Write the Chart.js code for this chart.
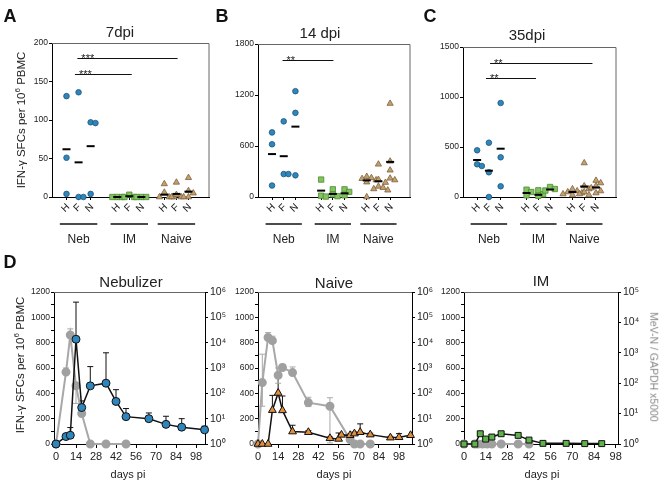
<!DOCTYPE html>
<html>
<head>
<meta charset="utf-8">
<script src="https://cdn.jsdelivr.net/npm/chart.js@4.4.1/dist/chart.umd.min.js"></script>
<style>
  body { margin: 0; background: #fff; width: 663px; height: 484px; position: relative; overflow: hidden;
         font-family: "Liberation Sans", Arial, sans-serif; color: #222; }
  canvas { position: absolute; left: 0; top: 0; }
  .t { position: absolute; white-space: nowrap; line-height: 1; transform: translate(-50%, -50%); }
  .letter { font-weight: bold; font-size: 18px; color: #111; }
  .ttl { font-size: 15px; }
  .yt { font-size: 11.5px; transform: translate(-50%, -50%) rotate(-90deg); }
  .yt sup { font-size: 8px; line-height: 0; }
  .rt { font-size: 10.5px; color: #888; transform: translate(-50%, -50%) rotate(90deg); }
  .dp { font-size: 11px; }
</style>
</head>
<body>
<canvas id="cA" width="663" height="484"></canvas>
<canvas id="cB" width="663" height="484"></canvas>
<canvas id="cC" width="663" height="484"></canvas>
<canvas id="cNeb" width="663" height="484"></canvas>
<canvas id="cNaive" width="663" height="484"></canvas>
<canvas id="cIM" width="663" height="484"></canvas>

<div class="t letter" style="left:10px;top:16px">A</div>
<div class="t letter" style="left:222px;top:16px">B</div>
<div class="t letter" style="left:430px;top:16px">C</div>
<div class="t letter" style="left:10px;top:262px">D</div>

<div class="t ttl" style="left:120px;top:31px">7dpi</div>
<div class="t ttl" style="left:320px;top:32px">14 dpi</div>
<div class="t ttl" style="left:527px;top:34px">35dpi</div>
<div class="t yt" style="left:22px;top:120px">IFN-γ SFCs per 10<sup>6</sup> PBMC</div>

<div class="t ttl" style="left:131px;top:281px">Nebulizer</div>
<div class="t ttl" style="left:334px;top:282px">Naive</div>
<div class="t ttl" style="left:541px;top:280px">IM</div>
<div class="t yt" style="left:21px;top:365px">IFN-γ SFCs per 10<sup>6</sup> PBMC</div>
<div class="t rt" style="left:654px;top:367px">MeV-N / GAPDH x5000</div>
<div class="t dp" style="left:128px;top:474px">days pi</div>
<div class="t dp" style="left:334px;top:474px">days pi</div>
<div class="t dp" style="left:542px;top:474px">days pi</div>

<script>
// ---- dot plots: IFN-g SFCs per 10^6 PBMC, each route is [H, F, N]
const subgroups = ['H', 'F', 'N'];
const groups = ['Neb', 'IM', 'Naive'];

const dpi7Neb = [[131, 51, 4], [136, 0, 0], [97, 96, 4]];
const dpi7IM = [[0, 0, 0], [3, 0, 0], [0, 0, 0]];
const dpi7Naive = [[17, 6, 0, 0, 0], [19, 3, 0, 0], [25, 8, 5, 0, 0]];
const dpi7Means = [62, 45, 66, 0, 1, 0, 3, 4, 7];

const dpi14Neb = [[760, 620, 135], [890, 270, 270], [1245, 990, 255]];
const dpi14IM = [[205, 15, 5], [90, 30, 10], [90, 60, 20]];
const dpi14Naive = [[240, 225, 215, 200, 175, 0], [385, 205, 125, 110, 95, 80], [1100, 420, 315, 220, 200, 170]];
const dpi14Means = [505, 480, 828, 75, 36, 43, 195, 185, 413];

const dpi35Neb = [[467, 327, 310], [543, 247, 0], [940, 397, 107]];
const dpi35IM = [[73, 50, 17], [67, 27, 12], [100, 80, 65]];
const dpi35Naive = [[80, 60, 50, 40, 30, 20], [340, 110, 80, 50, 30, 20], [165, 140, 110, 90, 60, 40]];
const dpi35Means = [370, 263, 483, 40, 22, 75, 50, 105, 95];

// significance bars
const dpi7Sig = [{from: 2.1, to: 10.4, y: 180, label: '***'}, {from: 1.9, to: 6.6, y: 160, label: '***'}];
const dpi14Sig = [{from: 2.1, to: 6.45, y: 1615, label: '**'}];
const dpi35Sig = [{from: 2.3, to: 11.0, y: 1345, label: '**'}, {from: 1.95, to: 6.2, y: 1195, label: '**'}];

// ---- time courses (D)
const dayTicks = [0, 14, 28, 42, 56, 70, 84, 98];

const nebDays = [0, 7, 10, 14, 18, 24, 35, 42, 49, 65, 77, 88, 104];
const nebSfc = [0, 59, 69, 827, 288, 459, 480, 336, 216, 200, 155, 133, 112];
const nebSfcErr = [null, null, 130, 1120, 340, 611, 720, 429, 280, 245, 219, 200, 141];
const nebVirDays = [0, 7, 10, 14, 18, 24, 35, 49];
const nebVir = [1, 690, 20000, 200, 16, 1, 1, 1];
const nebVirUp = [null, 1000, 35000, null, null, null, null, null];
const nebVirDown = [null, null, null, 40, null, null, null, null];

const naiveDays = [0, 3, 7, 10, 14, 17, 24, 35, 50, 56, 58, 64, 67, 71, 78, 92, 98, 106];
const naiveSfc = [0, 0, 0, 267, 403, 265, 98, 93, 45, 40, 72, 69, 82, 93, 74, 50, 53, 69];
const naiveSfcErr = [null, null, null, 384, 540, 379, 148, 105, 55, 87, null, 80, 95, 159, 85, 60, 82, null];
const naiveVirDays = [0, 3, 7, 10, 14, 17, 24, 35, 50, 64, 67, 71, 78];
const naiveVir = [1, 265, 16000, 12000, 520, 1050, 660, 43, 31, 1.5, 1, 1, 1];
const naiveVirUp = [null, 3500, 25000, 18000, 1000, 1400, 1100, 70, 67, null, null, null, null];
const naiveVirDown = [null, 31, null, null, 250, null, null, 30, 1.1, null, null, null, null];

const imDays = [0, 7, 10.5, 14, 18, 24, 35, 42, 51, 66, 78, 89];
const imSfc = [0, 0, 81, 39, 55, 81, 68, 31, 5, 5, 3, 3];
const imSfcErr = [null, null, 95, 45, 75, 95, 75, 40, null, null, null, null];
const imVirDays = [0, 7, 9, 12, 15, 18, 24, 35, 42];
const imVir = [1, 1, 1, 1, 1, 1, 1, 1, 1];

const W = 663, H = 484;
const FONT = '"Liberation Sans", Arial, sans-serif';
Chart.defaults.font.family = FONT;
Chart.defaults.color = '#222';

const catPos = [1.2, 2.2, 3.2, 5.4, 6.4, 7.4, 9.3, 10.3, 11.3];
const sup = ['⁰', '¹', '²', '³', '⁴', '⁵', '⁶'];

// spread overlapping dots sideways
function swarm(vals, pxPerUnit) {
  const placed = [];
  return vals.map(v => {
    const py = v * pxPerUnit;
    for (const dx of [0, 0.4, -0.4, 0.8, -0.8]) {
      if (placed.every(p => Math.abs(p.dx - dx) > 0.3 || Math.abs(p.py - py) > 5)) {
        placed.push({dx, py});
        return dx;
      }
    }
    return 0;
  });
}

function framePlugin(right) {
  return {
    id: 'frame',
    afterDraw(chart) {
      const {ctx, chartArea: a} = chart;
      ctx.save();
      ctx.strokeStyle = '#666';
      ctx.lineWidth = 1;
      ctx.beginPath();
      ctx.moveTo(a.left, a.top + 0.5);
      ctx.lineTo(a.right, a.top + 0.5);
      if (right) ctx.lineTo(a.right, a.bottom);
      ctx.stroke();
      ctx.restore();
    }
  };
}

function dotChart(id, box, yMax, yStep, neb, im, naive, means, sig) {
  const yW = 30, xH = 20;
  const ppu = (box.b - box.t) / yMax;
  const pts = (sets, g) => {
    const out = [];
    sets.forEach((vals, k) => {
      const dx = swarm(vals, ppu);
      vals.forEach((v, i) => out.push({x: catPos[g * 3 + k] + dx[i], y: v}));
    });
    return out;
  };

  const groupPlugin = {
    id: 'groups',
    afterDraw(chart) {
      const {ctx, chartArea: a} = chart;
      const x = chart.scales.x, y = chart.scales.y;
      ctx.save();
      ctx.fillStyle = '#222';
      // rotated H / F / N labels
      ctx.font = '10px ' + FONT;
      ctx.textAlign = 'center';
      ctx.textBaseline = 'middle';
      catPos.forEach((p, i) => {
        ctx.save();
        ctx.translate(x.getPixelForValue(p) - 1, a.bottom + 11);
        ctx.rotate(-Math.PI / 4);
        ctx.fillText(subgroups[i % 3], 0, 0);
        ctx.restore();
      });
      // group bars and names
      ctx.strokeStyle = '#111';
      ctx.lineWidth = 1.3;
      ctx.font = '12px ' + FONT;
      groups.forEach((g, i) => {
        const x0 = x.getPixelForValue(catPos[i * 3] - 0.55);
        const x1 = x.getPixelForValue(catPos[i * 3 + 2] + 0.55);
        ctx.beginPath();
        ctx.moveTo(x0, a.bottom + 27);
        ctx.lineTo(x1, a.bottom + 27);
        ctx.stroke();
        ctx.fillText(g, (x0 + x1) / 2, a.bottom + 43);
      });
      // significance
      ctx.lineWidth = 1;
      ctx.textAlign = 'left';
      ctx.textBaseline = 'alphabetic';
      ctx.font = '11px ' + FONT;
      sig.forEach(s => {
        const py = Math.round(y.getPixelForValue(s.y)) + 0.5;
        const x0 = x.getPixelForValue(s.from), x1 = x.getPixelForValue(s.to);
        ctx.beginPath();
        ctx.moveTo(x0, py);
        ctx.lineTo(x1, py);
        ctx.stroke();
        ctx.fillText(s.label, x0 + 4, py + 3);
      });
      ctx.restore();
    }
  };

  new Chart(document.getElementById(id), {
    type: 'scatter',
    data: {
      datasets: [
        {data: means.map((m, i) => ({x: catPos[i], y: m})), pointStyle: 'line', radius: 4,
         borderColor: '#000', borderWidth: 2, clip: false},
        {data: pts(neb, 0), pointStyle: 'circle', radius: 2.8, backgroundColor: '#2f86bd',
         borderColor: '#1d5578', borderWidth: 0.8, clip: false},
        {data: pts(im, 1), pointStyle: 'rect', radius: 3.8, backgroundColor: '#82c35e',
         borderColor: '#4b8a34', borderWidth: 0.8, clip: false},
        {data: pts(naive, 2), pointStyle: 'triangle', radius: 3.6, backgroundColor: '#c4a06c',
         borderColor: '#7a6040', borderWidth: 0.8, clip: false}
      ]
    },
    options: {
      responsive: false,
      animation: false,
      events: [],
      layout: {padding: {left: box.l - yW, right: W - box.r, top: box.t, bottom: H - box.b - xH}},
      plugins: {legend: {display: false}, tooltip: {enabled: false}},
      scales: {
        x: {
          type: 'linear', min: 0, max: 13,
          afterBuildTicks: s => { s.ticks = catPos.map(v => ({value: v})); },
          afterFit: s => { s.height = xH; },
          ticks: {display: false},
          grid: {drawOnChartArea: false, tickLength: 3, color: '#000'},
          border: {color: '#000'}
        },
        y: {
          min: 0, max: yMax,
          afterFit: s => { s.width = yW; },
          ticks: {stepSize: yStep, font: {size: 8.5}, padding: 1, callback: v => String(v)},
          grid: {drawOnChartArea: false, tickLength: 3, color: '#000'},
          border: {color: '#000'}
        }
      }
    },
    plugins: [framePlugin(true), groupPlugin]
  });
}

const errorBars = {
  id: 'errorBars',
  beforeDatasetsDraw(chart) {
    const ctx = chart.ctx;
    chart.data.datasets.forEach((ds, i) => {
      const meta = chart.getDatasetMeta(i);
      const ys = chart.scales[ds.yAxisID];
      ctx.save();
      ctx.strokeStyle = ds.borderColor;
      ctx.lineWidth = 1;
      meta.data.forEach((pt, j) => {
        [ds.errUp, ds.errDown].forEach(arr => {
          if (!arr || arr[j] == null) return;
          const ye = ys.getPixelForValue(arr[j]);
          ctx.beginPath();
          ctx.moveTo(pt.x, pt.y);
          ctx.lineTo(pt.x, ye);
          ctx.moveTo(pt.x - 3, ye);
          ctx.lineTo(pt.x + 3, ye);
          ctx.stroke();
        });
      });
      ctx.restore();
    });
  }
};

function timeChart(id, box, xMin, xMax, logMax, sfc, vir, mark) {
  const yW = 30, yRW = 28, xH = 18;
  const pts = (days, vals) => days.map((d, i) => ({x: d, y: vals[i]}));
  const decades = [];
  for (let e = 0; Math.pow(10, e) <= logMax; e++) decades.push(e);
  const leftTicks = [];
  for (let v = 0; v <= 1200; v += 100) leftTicks.push(v);

  new Chart(document.getElementById(id), {
    type: 'scatter',
    data: {
      datasets: [
        {data: pts(sfc.days, sfc.vals), errUp: sfc.up, showLine: true, borderColor: '#111', borderWidth: 1.5,
         pointStyle: mark.style, radius: mark.r, pointBackgroundColor: mark.fill, pointBorderColor: '#111',
         pointBorderWidth: 1, yAxisID: 'y', clip: false},
        {data: pts(vir.days, vir.vals), errUp: vir.up, errDown: vir.down, showLine: true,
         borderColor: '#a8a8a8', borderWidth: 2, pointStyle: 'circle', radius: 3.5,
         pointBackgroundColor: '#a0a0a0', pointBorderColor: '#a0a0a0', yAxisID: 'y2', clip: false}
      ]
    },
    options: {
      responsive: false,
      animation: false,
      events: [],
      layout: {padding: {left: box.l - yW, right: W - box.r - yRW, top: box.t, bottom: H - box.b - xH}},
      plugins: {legend: {display: false}, tooltip: {enabled: false}},
      scales: {
        x: {
          type: 'linear', min: xMin, max: xMax,
          afterBuildTicks: s => { s.ticks = dayTicks.map(v => ({value: v})); },
          afterFit: s => { s.height = xH; },
          ticks: {font: {size: 11}, padding: 2, maxRotation: 0, autoSkip: false},
          grid: {drawOnChartArea: false, tickLength: 4, color: '#000'},
          border: {color: '#000'}
        },
        y: {
          position: 'left', min: 0, max: 1200,
          afterBuildTicks: s => { s.ticks = leftTicks.map(v => ({value: v})); },
          afterFit: s => { s.width = yW; },
          ticks: {callback: v => (v % 200 ? '' : String(v)), font: {size: 8.5}, padding: 1, autoSkip: false},
          grid: {drawOnChartArea: false, tickLength: 3, color: '#000'},
          border: {color: '#000'}
        },
        y2: {
          type: 'logarithmic', position: 'right', min: 1, max: logMax,
          afterBuildTicks: s => { s.ticks = decades.map(e => ({value: Math.pow(10, e)})); },
          afterFit: s => { s.width = yRW; },
          ticks: {callback: v => '10' + sup[Math.round(Math.log10(v))], font: {size: 10.5}, padding: 2, autoSkip: false},
          grid: {drawOnChartArea: false, tickLength: 3, color: '#000'},
          border: {color: '#000'}
        }
      }
    },
    plugins: [framePlugin(false), errorBars]
  });
}

dotChart('cA', {l: 52, r: 209, t: 43, b: 197}, 200, 50, dpi7Neb, dpi7IM, dpi7Naive, dpi7Means, dpi7Sig);
dotChart('cB', {l: 258, r: 410, t: 44, b: 197}, 1800, 600, dpi14Neb, dpi14IM, dpi14Naive, dpi14Means, dpi14Sig);
dotChart('cC', {l: 463, r: 616, t: 47, b: 197}, 1500, 500, dpi35Neb, dpi35IM, dpi35Naive, dpi35Means, dpi35Sig);

timeChart('cNeb', {l: 54, r: 205, t: 292, b: 444}, -1.4, 104.3, 1e6,
  {days: nebDays, vals: nebSfc, up: nebSfcErr},
  {days: nebVirDays, vals: nebVir, up: nebVirUp, down: nebVirDown},
  {style: 'circle', r: 4, fill: '#2f86bd'});
timeChart('cNaive', {l: 258, r: 412, t: 292, b: 444}, 0, 107, 1e6,
  {days: naiveDays, vals: naiveSfc, up: naiveSfcErr},
  {days: naiveVirDays, vals: naiveVir, up: naiveVirUp, down: naiveVirDown},
  {style: 'triangle', r: 4.5, fill: '#e08d3c'});
timeChart('cIM', {l: 464, r: 618, t: 292, b: 444}, 0, 99.5, 1e5,
  {days: imDays, vals: imSfc, up: imSfcErr},
  {days: imVirDays, vals: imVir, up: null, down: null},
  {style: 'rect', r: 4.2, fill: '#5fb14a'});
</script>
</body>
</html>
